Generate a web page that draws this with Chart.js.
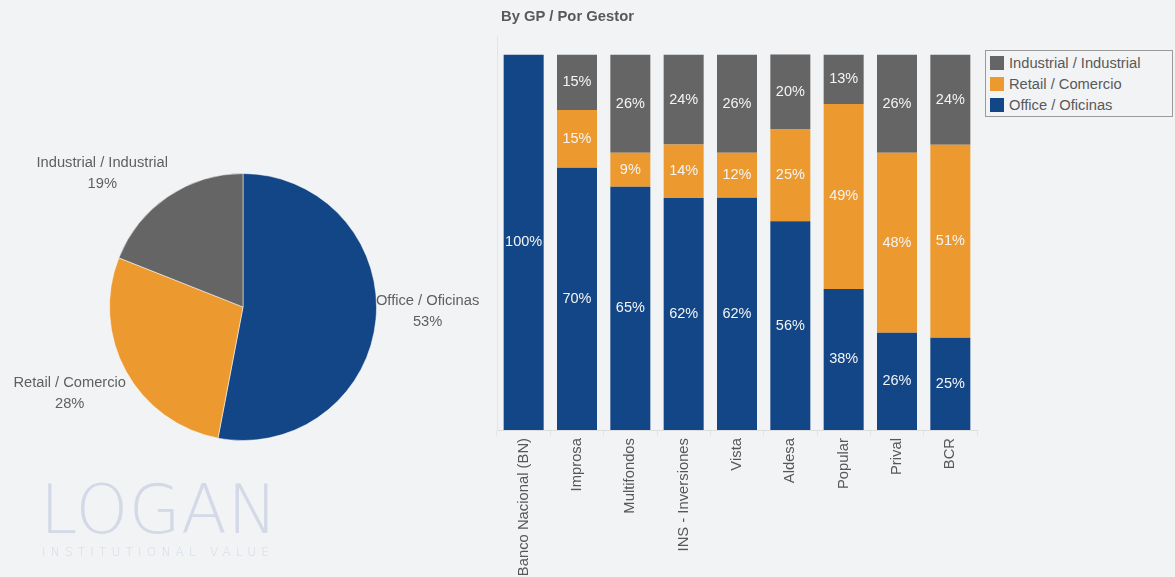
<!DOCTYPE html>
<html>
<head>
<meta charset="utf-8">
<script src="https://cdn.jsdelivr.net/npm/chart.js@4.4.1/dist/chart.umd.min.js"></script>
<style>
  html,body{margin:0;padding:0;background:#f2f3f5;width:1175px;height:577px;overflow:hidden;font-family:"Liberation Sans",Arial,sans-serif;}
  #pieWrap{position:absolute;left:0;top:0;width:490px;height:577px;}
  #barWrap{position:absolute;left:490px;top:0;width:490px;height:577px;}
  #title{position:absolute;left:501px;top:8px;font-size:14.8px;font-weight:bold;color:#595959;}
  #legend{position:absolute;left:985px;top:50px;width:188px;height:67px;border:1px solid #9a9a9a;box-sizing:border-box;padding:1px 0 0 4px;}
  .li{display:flex;align-items:center;height:21px;font-size:14.7px;color:#595959;}
  .sw{width:14px;height:14px;margin-right:5px;}
  #logo{position:absolute;left:40px;top:477px;color:#d3d9e7;font-family:"DejaVu Sans",sans-serif;}
  #logo .big{font-size:67px;font-weight:200;line-height:66px;letter-spacing:0.5px;}
  #logo .small{font-size:12px;font-weight:200;letter-spacing:5.2px;margin-top:2px;margin-left:2px;}
</style>
</head>
<body>
<div id="pieWrap"><canvas id="pie"></canvas></div>
<div id="barWrap"><canvas id="bar"></canvas></div>
<div id="title">By GP / Por Gestor</div>
<div id="legend"></div>
<div id="logo"><div class="big">LOGAN</div><div class="small">INSTITUTIONAL VALUE</div></div>
<script>
// ---- Data ----
const pieLabels = ["Office / Oficinas", "Retail / Comercio", "Industrial / Industrial"];
const pieValues = [53, 28, 19];

const gestores = ["Banco Nacional (BN)", "Improsa", "Multifondos", "INS - Inversiones", "Vista", "Aldesa", "Popular", "Prival", "BCR"];
const officeValues     = [100, 69.9, 64.8, 61.8, 61.9, 55.6, 37.6, 25.9, 24.6];
const retailValues     = [0,   15.4,  9.1, 14.3, 12.0, 24.6, 49.3, 48.0, 51.4];
const industrialValues = [0,   14.7, 26.1, 23.9, 26.1, 19.9, 13.1, 26.1, 24.0];

const seriesNames = ["Office / Oficinas", "Retail / Comercio", "Industrial / Industrial"];
const colors = {office:"#134687", retail:"#ec9a30", industrial:"#646564"};
const FONT = '"Liberation Sans", Arial, sans-serif';

// ---- Legend (HTML) ----
const legendItems = [
  [seriesNames[2], colors.industrial],
  [seriesNames[1], colors.retail],
  [seriesNames[0], colors.office]
];
document.getElementById('legend').innerHTML = legendItems.map(([t,c]) =>
  `<div class="li"><div class="sw" style="background:${c}"></div>${t}</div>`).join('');

// ---- Pie ----
const pieLabelPlugin = {
  id: 'pieLabelPlugin',
  afterDraw(chart) {
    const ctx = chart.ctx;
    const meta = chart.getDatasetMeta(0);
    ctx.save();
    ctx.font = '14.7px ' + FONT;
    ctx.fillStyle = '#5f5f5f';
    ctx.textAlign = 'center';
    ctx.textBaseline = 'middle';
    const lh = 21;
    meta.data.forEach((arc, i) => {
      const p = arc.getProps(['x','y','startAngle','endAngle','outerRadius'], true);
      const mid = (p.startAngle + p.endAngle) / 2;
      const s = Math.sin(mid), c = Math.cos(mid);
      const ax = p.x + c * p.outerRadius;
      const ay = p.y + s * p.outerRadius;
      const lines = [chart.data.labels[i], chart.data.datasets[0].data[i] + '%'];
      const w = Math.max(...lines.map(l => ctx.measureText(l).width));
      const H = lines.length * lh;
      const cx = ax + Math.sign(c) * w / 2;
      const cy = Math.abs(s) < 0.3 ? ay - 8 : ay + Math.sign(s) * H / 2 + s * 3;
      lines.forEach((l, k) => ctx.fillText(l, cx, cy - H/2 + lh/2 + k*lh));
    });
    ctx.restore();
  }
};

new Chart(document.getElementById('pie'), {
  type: 'pie',
  data: {
    labels: pieLabels,
    datasets: [{
      data: pieValues,
      backgroundColor: [colors.office, colors.retail, colors.industrial],
      borderColor: 'rgba(255,255,255,0.5)',
      borderWidth: 1
    }]
  },
  options: {
    responsive: true,
    maintainAspectRatio: false,
    animation: false,
    layout: {padding: {left: 109, right: 113, top: 173, bottom: 136}},
    plugins: {legend: {display: false}, tooltip: {enabled: false}}
  },
  plugins: [pieLabelPlugin]
});

// ---- Stacked bars ----
const barLabelPlugin = {
  id: 'barLabelPlugin',
  afterDatasetsDraw(chart) {
    const ctx = chart.ctx;
    ctx.save();
    ctx.font = '14.5px ' + FONT;
    ctx.fillStyle = '#f4f4f4';
    ctx.textAlign = 'center';
    ctx.textBaseline = 'middle';
    chart.data.datasets.forEach((ds, i) => {
      const meta = chart.getDatasetMeta(i);
      meta.data.forEach((bar, j) => {
        const v = ds.data[j];
        if (!v) return;
        const p = bar.getProps(['x','y','base'], true);
        ctx.fillText(Math.round(v) + '%', p.x, (p.y + p.base) / 2);
      });
    });
    ctx.restore();
  }
};

new Chart(document.getElementById('bar'), {
  type: 'bar',
  data: {
    labels: gestores,
    datasets: [
      {label: seriesNames[0], data: officeValues, backgroundColor: colors.office},
      {label: seriesNames[1], data: retailValues, backgroundColor: colors.retail},
      {label: seriesNames[2], data: industrialValues, backgroundColor: colors.industrial}
    ]
  },
  options: {
    responsive: true,
    maintainAspectRatio: false,
    animation: false,
    datasets: {bar: {barPercentage: 0.75, categoryPercentage: 1}},
    layout: {padding: {left: 7, right: 3, top: 36, bottom: 0}},
    plugins: {legend: {display: false}, tooltip: {enabled: false}},
    scales: {
      x: {
        stacked: true,
        grid: {display: true, drawOnChartArea: false, drawTicks: true, tickLength: 6, color: '#e3e4e6', offset: true},
        border: {display: true, color: '#dcdddf'},
        ticks: {minRotation: 90, maxRotation: 90, padding: 2, color: '#575757', font: {size: 14.8, family: FONT}, autoSkip: false},
        afterFit(scale) { scale.height = 147; }
      },
      y: {
        stacked: true,
        min: 0,
        max: 105,
        grid: {display: false},
        border: {display: true, color: '#e3e4e6'},
        ticks: {display: false},
        afterFit(scale) { scale.width = 0; }
      }
    }
  },
  plugins: [barLabelPlugin]
});
</script>
</body>
</html>
